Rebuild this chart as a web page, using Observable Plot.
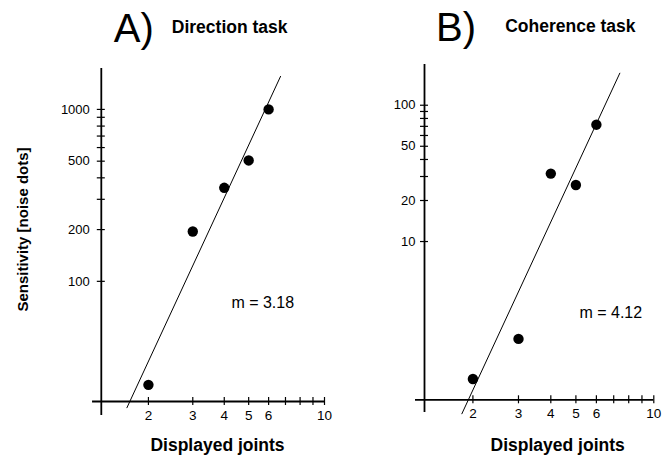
<!DOCTYPE html>
<html><head><meta charset="utf-8">
<script src="https://cdn.jsdelivr.net/npm/d3@7"></script>
<script src="https://cdn.jsdelivr.net/npm/@observablehq/plot@0.6"></script>
<style>
body{margin:0;background:#fff;}
#chart{display:flex;width:670px;height:455px;}
</style></head><body><div id="chart"></div>
<script>
// ---- data ----
const joints = [2, 3, 4, 5, 6];
const sensitivityA = [25, 195, 350, 505, 1000];
const sensitivityB = [0.98, 1.93, 31.5, 26, 72];
const fitAx = [1.643, 6.69];
const fitAy = [18.4, 1556];
const fitBx = [1.813, 7.39];
const fitBy = [0.545, 171.8];
const panelLetters = ["A)", "B)"];
const panelTasks = ["Direction task", "Coherence task"];
const slopeLabels = ["m = 3.18", "m = 4.12"];
const slopeLabelX = [4.27, 5.16];
const slopeLabelY = [74.5, 2.98];
const xMajor = [2, 3, 4, 5, 6, 10];
const xMinor = [7, 8, 9];
const yMajorA = [100, 200, 500, 1000];
const yMinorA = [300, 400, 600, 700, 800, 900];
const yMajorB = [10, 20, 50, 100];
const yMinorB = [30, 40, 60, 70, 80, 90];
const xLabel = "Displayed joints";
const yLabel = "Sensitivity [noise dots]";
// axis extents (data units)
const xAxisStart = 1.2, xAxisEnd = 10, yAxisAtX = 1.3;
const yAxisA = [16.6, 1730], xAxisAtA = 20;
const yAxisB = [0.556, 199], xAxisAtB = 0.69;

const FONT = "'Liberation Sans', Arial, Helvetica, sans-serif";

function rows(xs, ys) { return xs.map((x, i) => ({x, y: ys[i]})); }

function panel(o) {
  const marks = [
    Plot.ruleX([yAxisAtX], {y1: o.yAxis[0], y2: o.yAxis[1], strokeWidth: 1.8}),
    Plot.ruleY([o.xAxisAt], {x1: xAxisStart, x2: xAxisEnd, strokeWidth: 1.8}),
    Plot.axisY(o.yMajor, {anchor: "left", tickSize: 8, dx: 4, tickPadding: o.yPad, fontSize: 13, text: d => String(d), label: null, strokeWidth: 1.2}),
    Plot.axisY(o.yMinor, {anchor: "left", tickSize: 8, dx: 4, text: () => "", label: null, strokeWidth: 1.2}),
    Plot.axisX(xMajor, {anchor: "bottom", tickSize: 8, dy: -4, tickPadding: 5, fontSize: 13.5, text: d => String(d), label: null, strokeWidth: 1.2}),
    Plot.axisX(xMinor, {anchor: "bottom", tickSize: 8, dy: -4, text: () => "", label: null, strokeWidth: 1.2}),
    Plot.line(o.fit, {x: "x", y: "y", strokeWidth: 1, stroke: "black"}),
    Plot.dot(o.pts, {x: "x", y: "y", r: 5.2, fill: "black", stroke: "none"}),
    Plot.text([o.slope], {x: "x", y: "y", text: "t", textAnchor: "start", fontSize: 16}),
    Plot.text([o.letter], {text: d => d, frameAnchor: "top-left", dx: o.letterDx, dy: o.letterDy, lineAnchor: "bottom", textAnchor: "start", fontSize: 40, fontWeight: 400}),
    Plot.text([o.task], {text: d => d, frameAnchor: "top-left", dx: o.taskDx, dy: o.taskDy, lineAnchor: "bottom", textAnchor: "start", fontSize: 17.5, fontWeight: "bold"}),
    Plot.text([xLabel], {text: d => d, frameAnchor: "bottom", dx: o.xLabelDx, dy: o.xLabelDy, lineAnchor: "bottom", textAnchor: "middle", fontSize: 17.5, fontWeight: "bold"})
  ];
  if (o.withYLabel) {
    marks.push(Plot.text([yLabel], {text: d => d, frameAnchor: "left", dx: o.yLabelDx, dy: o.yLabelDy, rotate: -90, textAnchor: "middle", lineAnchor: "middle", fontSize: 15, fontWeight: "bold"}));
  }
  return Plot.plot({
    width: 335, height: 455,
    marginLeft: o.ml, marginRight: o.mr, marginTop: o.mt, marginBottom: o.mb,
    x: {type: "log", domain: [yAxisAtX, xAxisEnd]},
    y: {type: "log", domain: [o.xAxisAt, o.yAxis[1]]},
    style: {fontFamily: FONT, background: "white", color: "black", overflow: "visible"},
    marks
  });
}

const chart = document.getElementById("chart");
chart.append(panel({
  pts: rows(joints, sensitivityA), fit: rows(fitAx, fitAy),
  yMajor: yMajorA, yMinor: yMinorA, yAxis: yAxisA, xAxisAt: xAxisAtA,
  slope: {x: slopeLabelX[0], y: slopeLabelY[0], t: slopeLabels[0]},
  letter: panelLetters[0], task: panelTasks[0],
  ml: 100.8, mr: 11, mt: 68, mb: 54, yPad: 7.5,
  letterDx: 12.5, letterDy: -26.3, taskDx: 70.5, taskDy: -35.7,
  xLabelDx: 4.6, xLabelDy: 49.7,
  withYLabel: true, yLabelDx: -78.3, yLabelDy: -5.5
}));
chart.append(panel({
  pts: rows(joints, sensitivityB), fit: rows(fitBx, fitBy),
  yMajor: yMajorB, yMinor: yMinorB, yAxis: yAxisB, xAxisAt: xAxisAtB,
  slope: {x: slopeLabelX[1], y: slopeLabelY[1], t: slopeLabels[1]},
  letter: panelLetters[1], task: panelTasks[1],
  ml: 89, mr: 16.7, mt: 64, mb: 55.7, yPad: 5,
  letterDx: 11.5, letterDy: -23.3, taskDx: 80.7, taskDy: -32.3,
  xLabelDx: 18.5, xLabelDy: 50.7,
  withYLabel: false
}));
</script></body></html>
